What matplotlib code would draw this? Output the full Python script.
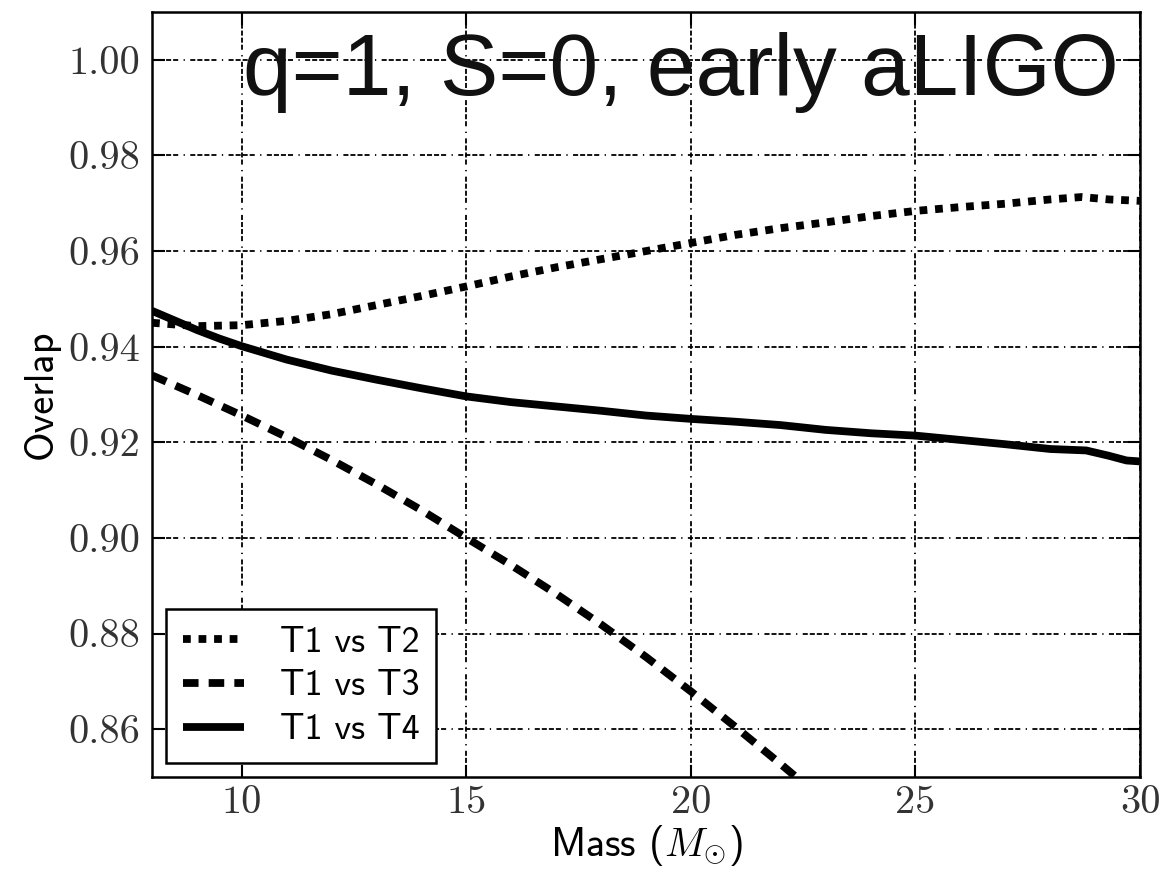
import matplotlib
matplotlib.use("Agg")
import matplotlib.pyplot as plt
from matplotlib.ticker import FormatStrFormatter, FixedLocator

# ---- data ----
mass_t2 = [8, 9, 10, 11, 12, 13, 14, 15, 16, 17, 18, 19, 20, 21, 22, 23, 24, 25, 26, 27, 28, 28.7, 29.3, 30]
overlap_t2 = [0.9450, 0.9443, 0.9445, 0.9454, 0.9468, 0.9487, 0.9506, 0.9526, 0.9547, 0.9566, 0.9583,
              0.9600, 0.9617, 0.9634, 0.9648, 0.9660, 0.9673, 0.9684, 0.9692, 0.9699, 0.9708, 0.9713,
              0.9708, 0.9705]

mass_t3 = [8, 9, 10, 11, 12, 13, 14, 15, 16, 17, 18, 19, 20, 21, 22, 23]
overlap_t3 = [0.9340, 0.9299, 0.9256, 0.9211, 0.9163, 0.9112, 0.9058, 0.9000, 0.8943, 0.8883, 0.8819,
              0.8751, 0.8679, 0.8604, 0.8527, 0.8448]

mass_t4 = [8, 8.5, 9, 9.5, 10, 11, 12, 13, 14, 15, 16, 17, 18, 19, 20, 21, 22, 23, 24, 25, 26, 27, 28,
           28.8, 29.3, 29.7, 30]
overlap_t4 = [0.9475, 0.9455, 0.9435, 0.9417, 0.9401, 0.9373, 0.9350, 0.9331, 0.9313, 0.9296, 0.9284,
              0.9275, 0.9266, 0.9256, 0.9249, 0.9243, 0.9236, 0.9226, 0.9219, 0.9214, 0.9205, 0.9196,
              0.9186, 0.9183, 0.9172, 0.9162, 0.9160]

labels = ["T1 vs T2", "T1 vs T3", "T1 vs T4"]
x_ticks = [10, 15, 20, 25, 30]
y_ticks = [0.86, 0.88, 0.90, 0.92, 0.94, 0.96, 0.98, 1.00]
title_text = "q=1, S=0, early aLIGO"

plt.rcParams["mathtext.fontset"] = "cm"
plt.rcParams["axes.unicode_minus"] = False

W, H = 1162, 869
fig = plt.figure(figsize=(W / 100, H / 100), dpi=100)
ax = fig.add_axes([152 / W, 1 - 777 / H, (1140 - 152) / W, (777 - 12) / H])

lw = 5.6
ax.plot(mass_t2, overlap_t2, color="black", lw=lw, dashes=(1, 1), dash_capstyle="butt", label=labels[0])
ax.plot(mass_t3, overlap_t3, color="black", lw=lw, dashes=(2, 1.3), dash_capstyle="butt", label=labels[1])
ax.plot(mass_t4, overlap_t4, color="black", lw=lw, solid_capstyle="butt", label=labels[2])

ax.set_xlim(8, 30)
ax.set_ylim(0.85, 1.01)
ax.xaxis.set_major_locator(FixedLocator(x_ticks))
ax.yaxis.set_major_locator(FixedLocator(y_ticks))
ax.yaxis.set_major_formatter(FormatStrFormatter("%.2f"))
ax.xaxis.set_major_formatter(FormatStrFormatter("%d"))

ax.grid(True, color="black",
        linestyle=(0, (2.8, 1.1, 2.8, 1.1, 2.8, 1.1, 2.8, 3, 0.7, 3)), linewidth=1.3)
ax.set_axisbelow(True)

for s in ax.spines.values():
    s.set_linewidth(1.8)

ax.tick_params(direction="in", length=9, width=1.5, top=True, right=True)
ax.tick_params(axis="x", pad=6)
ax.tick_params(axis="y", pad=8.5)
for t in ax.get_xticklabels() + ax.get_yticklabels():
    t.set_fontfamily("cmr10")
    t.set_fontsize(29)
    t.set_color("#333333")

ax.set_xlabel(r"Mass ($M_{\odot}$)", fontfamily="cmss10", fontsize=29, labelpad=1)
ax.set_ylabel("Overlap", fontfamily="cmss10", fontsize=29, labelpad=6)

leg = ax.legend(loc="lower left", prop={"family": "cmss10", "size": 26}, frameon=True, fancybox=False,
                handlelength=1.7, handletextpad=1.0, labelspacing=0.3, borderpad=0.45,
                borderaxespad=0.4)
leg.get_frame().set_edgecolor("black")
leg.get_frame().set_linewidth(1.8)
leg.get_frame().set_alpha(1)

fig.text(243 / W, 1 - 95 / H, title_text, fontsize=63, fontfamily="Liberation Sans",
         ha="left", va="baseline", color="#111111")

fig.savefig("out.png", dpi=100)
